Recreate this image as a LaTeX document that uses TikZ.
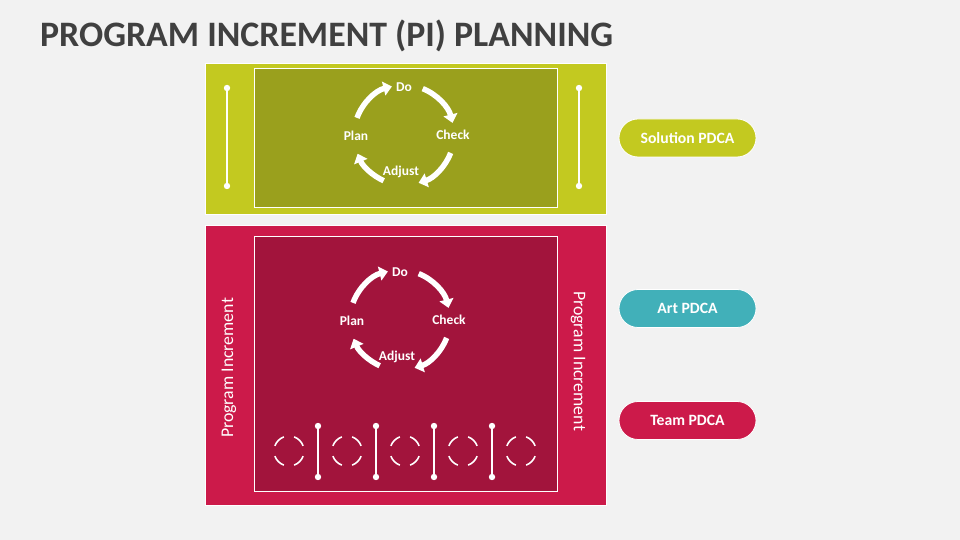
\documentclass[tikz,border=0pt]{standalone}
\usepackage{fontspec}
\setmainfont{Carlito}
\usetikzlibrary{arrows.meta,calc}
\definecolor{bg}{HTML}{F2F2F2}
\definecolor{limeO}{HTML}{C3C920}
\definecolor{limeI}{HTML}{9AA01D}
\definecolor{redO}{HTML}{CC1A4A}
\definecolor{redI}{HTML}{A2143C}
\definecolor{tealP}{HTML}{41B0B9}
\definecolor{titleC}{HTML}{404040}
\tikzset{
  outerbox/.style={draw=white,line width=0.8pt},
  innerbox/.style={draw=white,line width=1pt},
  cyc/.style={white,line width=5.5pt,-{Triangle[length=8.5pt,width=14pt]}},
  cyclbl/.style={text=white,font=\bfseries\fontsize{13.5}{13.5}\selectfont,inner sep=0pt},
  sepline/.style={white,line width=2pt},
  dotend/.style={fill=white,draw=none},
  dcirc/.style={white,line width=1.6pt},
  pill/.style={draw=white,line width=0.8pt,rounded corners=19pt,minimum width=137pt,minimum height=38pt,text=white,font=\bfseries\fontsize{15.7}{15.7}\selectfont},
  sidelbl/.style={text=white,font=\fontsize{17.8}{17.8}\selectfont,inner sep=0pt}
}
\newcommand{\pdcacycle}[1]{%
  \draw[cyc] ($(#1)+(160:50pt)$) arc[start angle=160,end angle=104,radius=50pt];
  \draw[cyc] ($(#1)+(68:50pt)$) arc[start angle=68,end angle=14,radius=50pt];
  \draw[cyc] ($(#1)+(-21:50pt)$) arc[start angle=-21,end angle=-73,radius=50pt];
  \draw[cyc] ($(#1)+(-114:50pt)$) arc[start angle=-114,end angle=-158,radius=50pt];
  \node[cyclbl] (#1do) at ($(#1)+(0,48pt)$) {Do};
  \node[cyclbl] (#1check) at ($(#1)+(49pt,0.5pt)$) {Check};
  \node[cyclbl] (#1adjust) at ($(#1)+(-3pt,-37pt)$) {Adjust};
  \node[cyclbl] (#1plan) at ($(#1)+(-48pt,-1pt)$) {Plan};
}
\newcommand{\sepbar}[4]{% name, x, y1, y2
  \coordinate (#1a) at (#2,#3);
  \coordinate (#1b) at (#2,#4);
  \draw[sepline] (#1a) -- (#1b);
  \fill[dotend] (#1a) circle (3.2pt);
  \fill[dotend] (#1b) circle (3.2pt);
}
\newcommand{\dashcirc}[2]{% name, x
  \coordinate (#1) at (#2,89);
  \foreach \a in {20,110,200,290}{
    \draw[dcirc] ($(#1)+(\a:15pt)$) arc[start angle=\a,delta angle=50,radius=15pt];
  }
}
\begin{document}
\begin{tikzpicture}[x=1pt,y=1pt]
\fill[bg] (0,0) rectangle (960,540);
\useasboundingbox (0,0) rectangle (960,540);
% title
\node[anchor=base west,inner sep=0pt,text=titleC,font=\bfseries\fontsize{35.8}{35.8}\selectfont] (title) at (40,493) {PROGRAM INCREMENT (PI) PLANNING};
% green block
\draw[outerbox,fill=limeO] (205,477) rectangle (606,326);
\draw[innerbox,fill=limeI] (254,471) rectangle (557,332);
\coordinate (g) at (404,405);
\pdcacycle{g}
\sepbar{gl}{227}{452}{354}
\sepbar{gr}{579}{452}{354}
% red block
\draw[outerbox,fill=redO] (205,315) rectangle (606,35);
\draw[innerbox,fill=redI] (254,303) rectangle (557,48);
\coordinate (r) at (400,220);
\pdcacycle{r}
\node[sidelbl,rotate=90] (pil) at (229,172) {Program Increment};
\node[sidelbl,rotate=-90] (pir) at (578,179) {Program Increment};
\sepbar{s1}{318}{114}{63}
\sepbar{s2}{376}{114}{63}
\sepbar{s3}{434}{114}{63}
\sepbar{s4}{492}{114}{63}
\dashcirc{c1}{289}
\dashcirc{c2}{347}
\dashcirc{c3}{405}
\dashcirc{c4}{463}
\dashcirc{c5}{521}
% pills
\node[pill,fill=limeO] (sol) at (687.5,402) {Solution PDCA};
\node[pill,fill=tealP] (art) at (687.5,231.5) {Art PDCA};
\node[pill,fill=redO] (team) at (687.5,119.5) {Team PDCA};
\end{tikzpicture}
\end{document}
